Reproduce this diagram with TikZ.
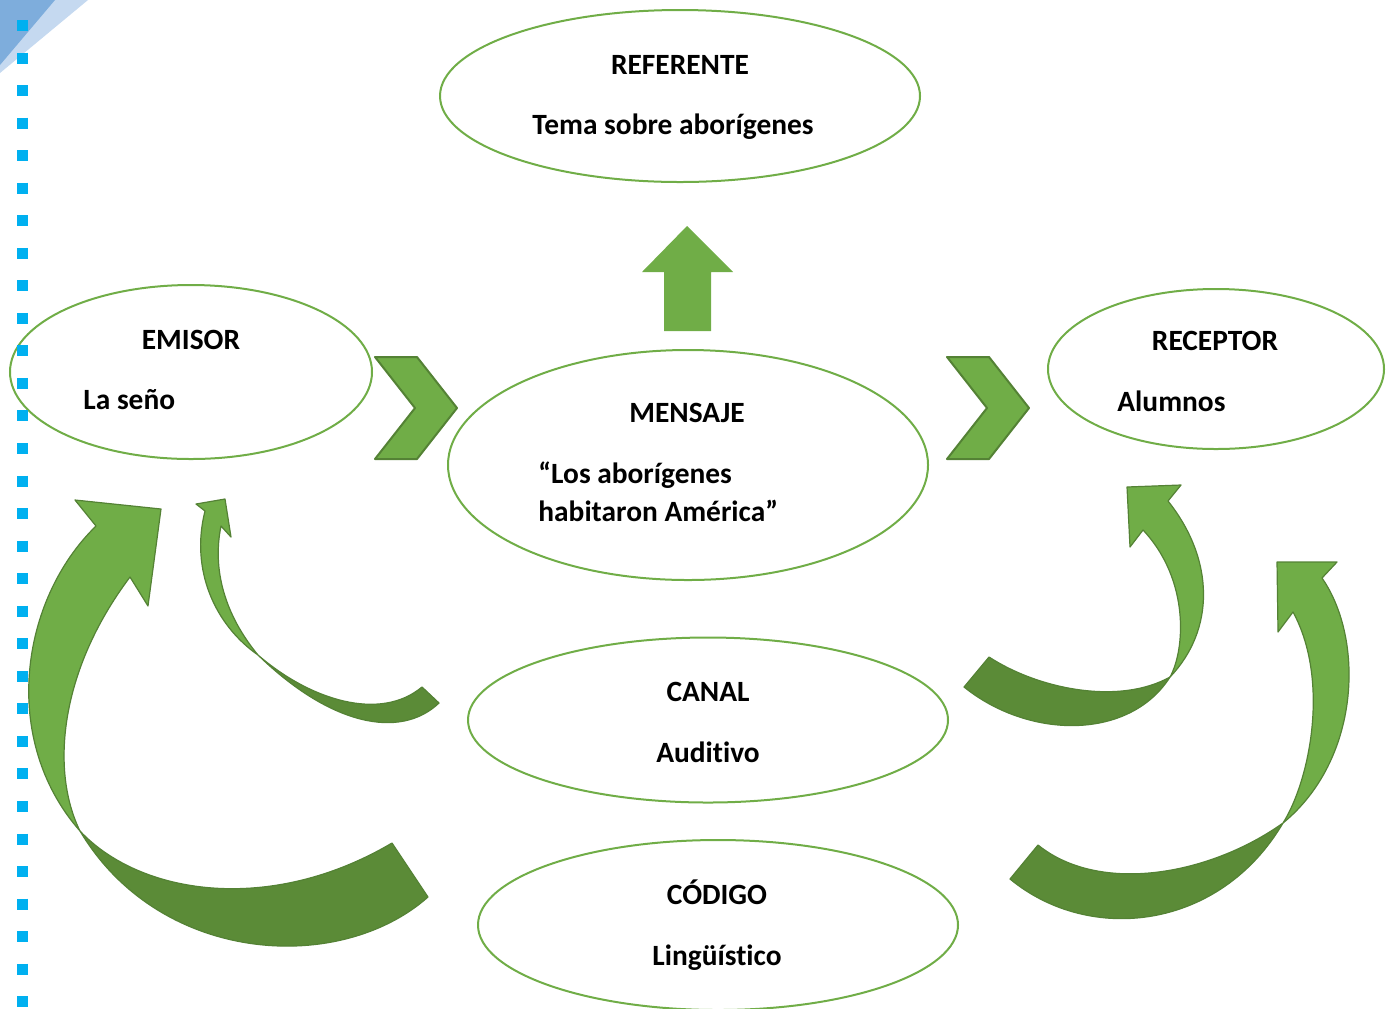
\documentclass[tikz,border=0pt]{standalone}
\usepackage{fontspec}
\setmainfont{Carlito}[Ligatures=NoCommon]
\usetikzlibrary{shapes.geometric}

\definecolor{verde}{HTML}{70AD47}
\definecolor{verdeosc}{HTML}{548235}
\definecolor{verderev}{HTML}{5B8B37}
\definecolor{azul}{HTML}{00B0F0}
\definecolor{azulosc}{HTML}{7EADDC}
\definecolor{azulcla}{HTML}{C5D9F0}

\begin{document}
\begin{tikzpicture}[x=0.5pt, y=-0.5pt, font=\fontsize{14.7}{17}\selectfont\bfseries]

\tikzset{
  globo/.style={ellipse, draw=verde, line width=1pt, inner sep=0pt},
  titulo/.style={anchor=base},
  texto/.style={anchor=base west, inner sep=0pt},
  flecha/.style={fill=verde, draw=verdeosc, line width=0.6pt, line join=round},
  revers/.style={fill=verderev, draw=verdeosc, line width=0.6pt, line join=round},
}

\def\chevron{
\filldraw[flecha, line width=1pt] (375,357)--(417,357)--(457,408)--(417,459)--(375,459)--(415,408)--cycle;
}

\useasboundingbox (0,0) rectangle (1390,1008);

% Ecke oben links
\fill[azulcla] (0,0)--(88,0)--(0,73)--cycle;
\fill[azulosc] (0,0)--(55,0)--(0,65)--cycle;

% Ellipsen
\node[globo, minimum width=240pt, minimum height=86pt] (referente) at (680,96) {};
\node[globo, minimum width=181pt, minimum height=87pt] (emisor) at (191,372) {};
\node[globo, minimum width=240pt, minimum height=115pt] (mensaje) at (688,465) {};
\node[globo, minimum width=168pt, minimum height=80pt] (receptor) at (1216,369) {};
\node[globo, minimum width=240pt, minimum height=82.5pt] (canal) at (708,720) {};
\node[globo, minimum width=240pt, minimum height=85pt] (codigo) at (718,925) {};

\node[titulo] (tRef) at (680,74) {REFERENTE};
\node[titulo] (tTema) at (673,134) {Tema sobre aborígenes};
\node[titulo] (tEmi) at (191,349) {EMISOR};
\node[texto] (tSeno) at (83,409) {La seño};
\node[titulo] (tMen) at (687,422) {MENSAJE};
\node[texto] (tLos) at (538,483) {“Los aborígenes};
\node[texto] (tHab) at (538,521) {habitaron América”};
\node[titulo] (tRec) at (1215,350) {RECEPTOR};
\node[texto] (tAlu) at (1117,411) {Alumnos};
\node[titulo] (tCan) at (708,701) {CANAL};
\node[titulo] (tAud) at (708,762) {Auditivo};
\node[titulo] (tCod) at (717,904) {CÓDIGO};
\node[titulo] (tLin) at (717,965) {Lingüístico};

% Pfeile
\begin{scope}
\chevron
\end{scope}
\begin{scope}[shift={(572,0)}]
\chevron
\end{scope}

\fill[verde] (687,226)--(733,272)--(711,272)--(711,331)--(664,331)--(664,272)--(642,272)--cycle;

% gebogene Pfeile links
\filldraw[flecha] (80,831) .. controls (50,770) and (60,670) .. (130,577) -- (148,606) -- (161,509) -- (75,500) -- (96,526) .. controls (20,600) and (0,740) .. cycle;
\filldraw[revers] (80,831) .. controls (140,895) and (270,915) .. (392,843) -- (428,897) .. controls (340,975) and (160,965) .. cycle;

\filldraw[flecha] (258,655) .. controls (215,625) and (190,570) .. (205,511) -- (196,504) -- (225,499) -- (231,537) -- (221,526) .. controls (212,570) and (225,615) .. cycle;
\filldraw[revers] (258,655) .. controls (310,700) and (380,722) .. (422,687) -- (439,703) .. controls (400,740) and (330,725) .. cycle;

% gebogene Pfeile rechts
\filldraw[flecha] (1170,677) .. controls (1185,650) and (1190,580) .. (1143,530) -- (1130,547) -- (1127,487) -- (1181,485) -- (1168,501) .. controls (1215,560) and (1215,630) .. cycle;
\filldraw[revers] (1170,677) .. controls (1120,705) and (1040,690) .. (989,657) -- (964,687) .. controls (1030,740) and (1130,740) .. cycle;

\filldraw[flecha] (1283,823) .. controls (1310,780) and (1330,680) .. (1293,612) -- (1278,632) -- (1277,562) -- (1337,562) -- (1322,578) .. controls (1365,640) and (1360,760) .. cycle;
\filldraw[revers] (1283,823) .. controls (1210,875) and (1100,895) .. (1038,845) -- (1010,879) .. controls (1090,945) and (1220,930) .. cycle;

% Punktlinie
\draw[azul, line width=5.5pt, dash pattern=on 5.5pt off 10.77pt] (22,20) -- (22,1010);

\end{tikzpicture}
\end{document}
